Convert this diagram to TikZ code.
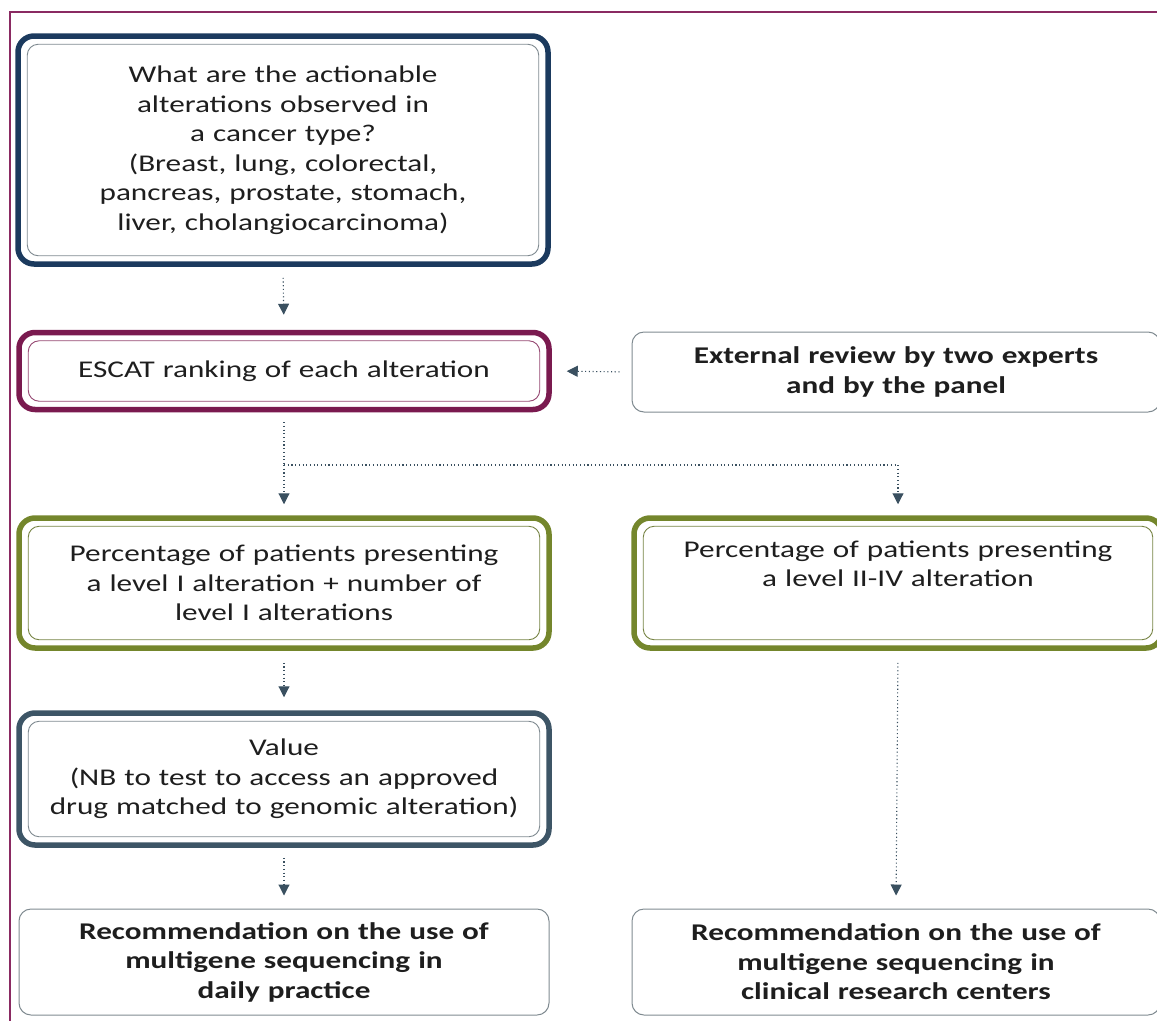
\documentclass[tikz,border=0pt]{standalone}
\usepackage{fontspec}
\setmainfont{Carlito}[FakeStretch=1.3]
\usetikzlibrary{arrows.meta,calc}
\definecolor{navyc}{HTML}{1B3A5E}
\definecolor{maroonc}{HTML}{7A1A4F}
\definecolor{greenc}{HTML}{74862C}
\definecolor{slatec}{HTML}{3D5566}
\definecolor{arrc}{HTML}{3A5060}
\definecolor{txtc}{HTML}{1E1E1E}
\definecolor{thinc}{HTML}{7F8A90}
\definecolor{framec}{HTML}{8A2A62}
\tikzset{
  box/.style={rounded corners=16pt, minimum width=#1, text width=#1-30pt, align=center,
    text=txtc, font=\fontsize{24}{29.5}\selectfont, inner sep=0pt},
  thick box/.style={draw=#1, line width=5.5pt},
  thin box/.style={draw=thinc, line width=1pt, rounded corners=12pt},
  arr/.style={draw=arrc, line width=1.1pt, dash pattern=on 1.1pt off 2.6pt,
    -{Triangle[width=11pt,length=11pt]}},
  seg/.style={draw=arrc, line width=1.1pt, dash pattern=on 1.1pt off 2.6pt},
}
\newcommand{\innerline}[2]{%
  \draw[#2, line width=0.9pt, rounded corners=11pt]
    ([shift={(12pt,-11pt)}]#1.north west) rectangle ([shift={(-12pt,11pt)}]#1.south east);}
\begin{document}
\begin{tikzpicture}[x=1pt,y=-1pt]
\useasboundingbox (0,0) rectangle (1157,1021);
% frame
\draw[framec, line width=1.2pt] (1157,12) -- (10,12) -- (10,1021);

% boxes
\node[box=530pt, thick box=navyc, minimum height=228pt] (b1) at (283,150)
  {What are the actionable\\ alterations observed in\\ a cancer type?\\ (Breast, lung, colorectal,\\ pancreas, prostate, stomach,\\ liver, cholangiocarcinoma)};
\innerline{b1}{thinc}

\node[box=530pt, thick box=maroonc, minimum height=77pt] (b2) at (284,371)
  {ESCAT ranking of each alteration};
\innerline{b2}{maroonc!80}

\node[box=528pt, thin box, minimum height=80pt, font=\bfseries\fontsize{24}{29.5}\selectfont] (ext) at (896,372)
  {External review by two experts\\ and by the panel};

\node[box=530pt, thick box=greenc, minimum height=130pt] (b3) at (284,583)
  {Percentage of patients presenting\\ a level I alteration + number of\\ level I alterations};
\innerline{b3}{greenc!70!gray}

\node[box=528pt, thick box=greenc, minimum height=130pt] (b4) at (898,583)
  {Percentage of patients presenting\\ a level II-IV alteration\\ \strut};
\innerline{b4}{greenc!70!gray}

\node[box=530pt, thick box=slatec, minimum height=132pt] (b5) at (284,779)
  {Value\\ (NB to test to access an approved\\ drug matched to genomic alteration)};
\innerline{b5}{thinc}

\node[box=530pt, thin box, minimum height=106pt, font=\bfseries\fontsize{24}{29.5}\selectfont] (b6) at (284,962)
  {Recommendation on the use of\\ multigene sequencing in\\ daily practice};

\node[box=528pt, thin box, minimum height=106pt, font=\bfseries\fontsize{24}{29.5}\selectfont] (b7) at (896,962)
  {Recommendation on the use of\\ multigene sequencing in\\ clinical research centers};

% connectors
\coordinate (split) at (b2.south |- 0,465);
\draw[arr, shorten <=11pt, shorten >=15pt] (b1.south) -- (b2.north);
\draw[arr, shorten <=12pt, shorten >=15pt] (ext.west) -- (b2.east);
\draw[seg, shorten <=10pt] (b2.south) -- (split);
\draw[arr, shorten >=11pt] (split) -- (b3.north);
\draw[arr, shorten >=11pt] (split) -| (b4.north);
\draw[arr, shorten <=12pt, shorten >=13pt] (b3.south) -- (b5.north);
\draw[arr, shorten <=10pt, shorten >=13pt] (b5.south) -- (b6.north);
\draw[arr, shorten <=12pt, shorten >=13pt] (b4.south) -- (b7.north);
\end{tikzpicture}
\end{document}
